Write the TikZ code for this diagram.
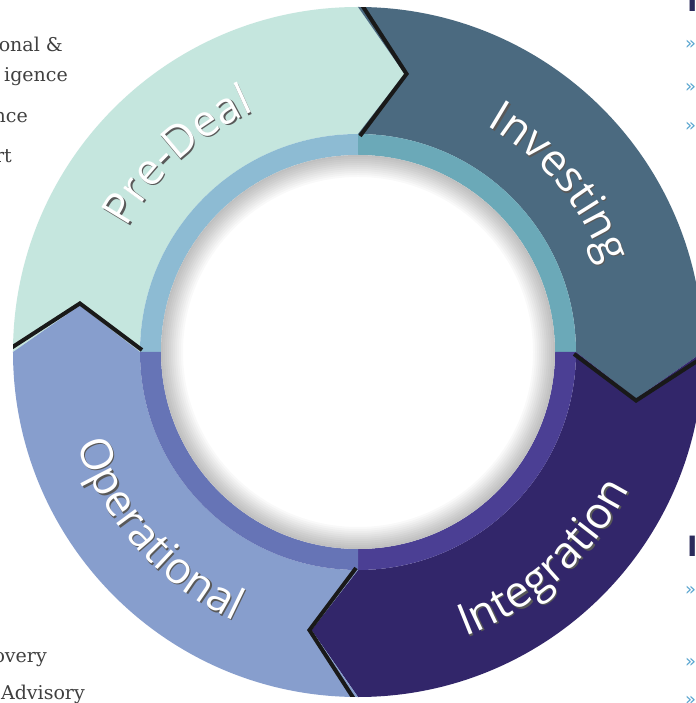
\documentclass[tikz,border=0pt]{standalone}
\usepackage{fontspec}
\newfontfamily\lblfont{Open Sans}
\newfontfamily\sidefont{DejaVu Serif}
\newfontfamily\symfont{DejaVu Sans}
\usetikzlibrary{decorations.text}
\definecolor{cPre}{HTML}{C5E6DE}
\definecolor{cInv}{HTML}{4B6A80}
\definecolor{cInt}{HTML}{32266A}
\definecolor{cOpe}{HTML}{879ECD}
\definecolor{bPre}{HTML}{8DBBD3}
\definecolor{bInv}{HTML}{6BA9B8}
\definecolor{bInt}{HTML}{4B3F94}
\definecolor{bOpe}{HTML}{6674B6}
\definecolor{sideText}{HTML}{404040}
\definecolor{guil}{HTML}{5AA6D0}
\definecolor{headCol}{HTML}{2C2B5C}
\tikzset{
  lbl/.style={decorate, decoration={text along path, text align=center,
    text={|\lblfont\fontsize{44}{44}\selectfont\color{white}|#1}}},
  lblsh/.style={decorate, decoration={text along path, text align=center,
    text={|\lblfont\fontsize{44}{44}\selectfont\color{black!65}|#1}}},
  side/.style={font=\sidefont\fontsize{19}{22}\selectfont, text=sideText, inner sep=0pt},
  gm/.style={font=\symfont\fontsize{18}{20}\selectfont, text=guil, inner sep=0pt, anchor=base west},
  head/.style={font=\symfont\bfseries\fontsize{28}{30}\selectfont, text=headCol, inner sep=0pt, anchor=base west},
  shadowline/.style={black!90, line width=4pt, line join=miter}
}
\begin{document}
\begin{tikzpicture}[x=1pt,y=1pt]
\useasboundingbox (-358,-351) rectangle (337,352);
\fill[white] (-358,-351) rectangle (337,352);
\def\Ro{345}\def\Ri{218}\def\Rm{282}\def\tipd{9.5}\def\Rw{197}
% segments
\foreach \ts/\sc in {180/cPre, 90/cInv, 0/cInt, -90/cOpe} {
  \fill[fill=\sc] (\ts:\Ro) arc[start angle=\ts, end angle=\ts-90, radius=\Ro]
    -- ({\ts-90-\tipd}:\Rm) -- ({\ts-90}:\Ri)
    arc[start angle=\ts-90, end angle=\ts, radius=\Ri]
    -- ({\ts-\tipd}:\Rm) -- cycle;
}
% inner band
\foreach \ts/\bc in {180/bPre, 90/bInv, 0/bInt, -90/bOpe} {
  \fill[fill=\bc] (\ts:\Ri) arc[start angle=\ts, end angle=\ts-90, radius=\Ri]
    -- ({\ts-90}:\Rw) arc[start angle=\ts-90, end angle=\ts, radius=\Rw] -- cycle;
}
% white centre with soft inner shadow
\fill[white] (0,0) circle[radius=\Rw];
\foreach \w in {2,4,...,22} {
  \draw[black, opacity=0.025, line width=\w pt] (0,0) circle[radius={\Rw-\w/2}];
}
% dark edges behind arrow tips
\begin{scope}
\clip (0,0) circle[radius=\Ro];
\foreach \tb in {90,0,-90,180} {
  \draw[shadowline, shift={({2*sin(\tb)},{-2*cos(\tb)})}]
    (\tb:{\Ro+5}) -- ({\tb-\tipd}:\Rm) -- (\tb:{\Ri-2});
}
\end{scope}
% curved labels
\path[lblsh={Pre-Deal}, shift={(1.5,-1.5)}] (175.5:262) arc[start angle=175.5, end angle=89.5, radius=262];
\path[lbl={Pre-Deal}] (175.5:262) arc[start angle=175.5, end angle=89.5, radius=262];
\path[lblsh={Investing}, shift={(1.5,-1.5)}] (83:260) arc[start angle=83, end angle=-3, radius=260];
\path[lbl={Investing}] (83:260) arc[start angle=83, end angle=-3, radius=260];
\path[lblsh={Integration}, shift={(1.5,-1.5)}] (-91:304) arc[start angle=-91, end angle=-5, radius=304];
\path[lbl={Integration}] (-91:304) arc[start angle=-91, end angle=-5, radius=304];
\path[lblsh={Operational}, shift={(1.5,-1.5)}] (178:296) arc[start angle=178, end angle=265.4, radius=296];
\path[lbl={Operational}] (178:296) arc[start angle=178, end angle=265.4, radius=296];
% side texts (cropped page)
\node[side, anchor=base east] (s1) at (-295,300) {onal \&};
\node[side, anchor=base east] (s2) at (-290,270) {igence};
\node[side, anchor=base east] (s3) at (-330,229) {nce};
\node[side, anchor=base east] (s4) at (-346,189) {rt};
\node[side, anchor=base east] (s5) at (-311,-310) {overy};
\node[side, anchor=base east] (s6) at (-273,-347) {Advisory};
\node[head] (h1) at (329,340) {I};
\node[head] (h2) at (329,-204) {I};
\node[gm] (g1) at (327,302) {»};
\node[gm] (g2) at (327,259) {»};
\node[gm] (g3) at (327,220) {»};
\node[gm] (g4) at (327,-243) {»};
\node[gm] (g5) at (327,-315) {»};
\node[gm] (g6) at (327,-353) {»};
\end{tikzpicture}
\end{document}
